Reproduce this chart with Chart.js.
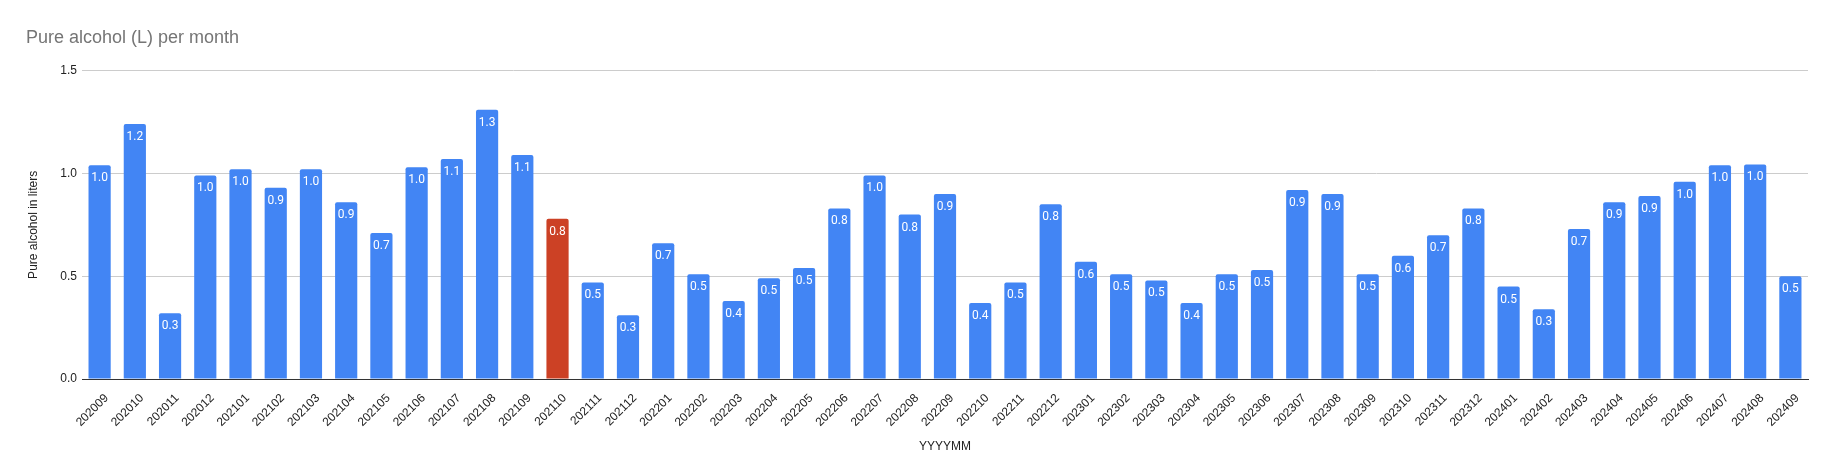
<!DOCTYPE html>
<html>
<head>
<meta charset="utf-8">
<script src="https://cdn.jsdelivr.net/npm/chart.js@4.4.1/dist/chart.umd.min.js"></script>
<style>
  html, body { margin: 0; padding: 0; background: #fff; }
  #wrap { width: 1833px; height: 474px; }
</style>
</head>
<body>
<div id="wrap"><canvas id="alcoholChart" width="1833" height="474"></canvas></div>
<script>
// Months (YYYYMM)
const months = [
    '202009', '202010', '202011', '202012', '202101', '202102', '202103', '202104',
    '202105', '202106', '202107', '202108', '202109', '202110', '202111', '202112',
    '202201', '202202', '202203', '202204', '202205', '202206', '202207', '202208',
    '202209', '202210', '202211', '202212', '202301', '202302', '202303', '202304',
    '202305', '202306', '202307', '202308', '202309', '202310', '202311', '202312',
    '202401', '202402', '202403', '202404', '202405', '202406', '202407', '202408',
    '202409'
];

// Pure alcohol in liters
const litres = [
    1.04, 1.24, 0.32, 0.99, 1.02, 0.93, 1.02, 0.86,
    0.71, 1.03, 1.07, 1.31, 1.09, 0.78, 0.47, 0.31,
    0.66, 0.51, 0.38, 0.49, 0.54, 0.83, 0.99, 0.80,
    0.90, 0.37, 0.47, 0.85, 0.57, 0.51, 0.48, 0.37,
    0.51, 0.53, 0.92, 0.90, 0.51, 0.60, 0.70, 0.83,
    0.45, 0.34, 0.73, 0.86, 0.89, 0.96, 1.04, 1.044,
    0.50
];

const yTicks = [0, 0.5, 1.0, 1.5];
const highlightMonth = '202110';

const blue = '#4285f4';
const red = '#cc4125';
const barColors = months.map(m => m === highlightMonth ? red : blue);

// white value labels inside the top of each bar
const barValueLabels = {
    id: 'barValueLabels',
    afterDatasetsDraw(chart) {
        const ctx = chart.ctx;
        const meta = chart.getDatasetMeta(0);
        ctx.save();
        ctx.fillStyle = '#ffffff';
        ctx.font = '12px Roboto, Arial, sans-serif';
        ctx.textAlign = 'center';
        ctx.textBaseline = 'middle';
        meta.data.forEach((bar, i) => {
            ctx.fillText(litres[i].toFixed(1), bar.x, bar.y + 13);
        });
        ctx.restore();
    }
};

const ctx = document.getElementById('alcoholChart').getContext('2d');
const alcoholChart = new Chart(ctx, {
    type: 'bar',
    data: {
        labels: months,
        datasets: [{
            label: 'Pure alcohol (L)',
            data: litres,
            backgroundColor: barColors,
            borderRadius: { topLeft: 2, topRight: 2 },
            borderSkipped: 'bottom',
            barPercentage: 0.63,
            categoryPercentage: 1.0
        }]
    },
    options: {
        responsive: false,
        animation: false,
        layout: {
            padding: { left: 26, right: 25, top: 0, bottom: 20 }
        },
        plugins: {
            legend: { display: false },
            tooltip: { enabled: false },
            title: {
                display: true,
                text: 'Pure alcohol (L) per month',
                align: 'start',
                color: '#757575',
                font: { family: 'Arial, "Liberation Sans", sans-serif', size: 18, weight: 'normal' },
                padding: { top: 27, bottom: 22 }
            }
        },
        scales: {
            x: {
                grid: { display: false },
                border: { display: true, color: '#333333', width: 1 },
                ticks: {
                    autoSkip: false,
                    minRotation: 45,
                    maxRotation: 45,
                    padding: 4,
                    labelOffset: 7,
                    color: '#222222',
                    font: { family: 'Arial, "Liberation Sans", sans-serif', size: 12 }
                },
                title: {
                    display: true,
                    text: 'YYYYMM',
                    color: '#222222',
                    font: { family: 'Arial, "Liberation Sans", sans-serif', size: 12 },
                    padding: { top: 6, bottom: 0 }
                }
            },
            y: {
                min: 0,
                max: 1.5,
                afterFit(scale) { scale.width = 56; },
                afterBuildTicks(scale) { scale.ticks = yTicks.map(v => ({ value: v })); },
                grid: {
                    color: c => c.tick && c.tick.value === 0 ? '#333333' : '#cccccc',
                    drawTicks: false
                },
                border: { display: false },
                ticks: {
                    padding: 5,
                    color: '#222222',
                    font: { family: 'Arial, "Liberation Sans", sans-serif', size: 12 },
                    callback: v => Number(v).toFixed(1)
                },
                title: {
                    display: true,
                    text: 'Pure alcohol in liters',
                    color: '#222222',
                    font: { family: 'Arial, "Liberation Sans", sans-serif', size: 12 },
                    padding: { top: 0, bottom: 0 }
                }
            }
        }
    },
    plugins: [barValueLabels]
});
</script>
</body>
</html>
